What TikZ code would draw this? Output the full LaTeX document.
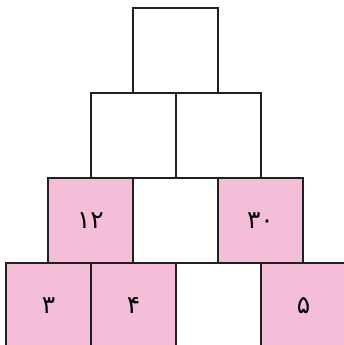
\documentclass[tikz,border=0pt]{standalone}
\usepackage{fontspec}
\newfontfamily\arabicfont[Script=Arabic]{DejaVu Sans}
\TeXXeTstate=1
\definecolor{cellpink}{RGB}{245,190,216}
\definecolor{cellline}{RGB}{35,31,32}
\tikzset{
  cell/.style={draw=cellline, line width=1.3bp, minimum size=85bp, inner sep=0pt,
    font=\arabicfont\fontsize{25}{28}\selectfont},
  pinkcell/.style={cell, fill=cellpink}
}
\begin{document}
\begin{tikzpicture}[x=1bp,y=1bp]
                \useasboundingbox (0,0) rectangle (344,-345);
                \clip (0,0) rectangle (344,-345);
                
                % Row 1: top box
                \node [cell] (top) at (175.5,-50.5) {};
                
                % Row 2
                \node [cell] (midL) at (133.5,-135.5) {};
                \node [cell] (midR) at (218.5,-135.5) {};
                
                % Row 3
                \node [pinkcell] (rowA) at (90.5,-220.5) {\beginR ۱۲\endR};
                \node [cell] (rowB) at (175.5,-220.5) {};
                \node [pinkcell] (rowC) at (260.5,-220.5) {\beginR ۳۰\endR};
                
                % Row 4: bottom boxes
                \node [pinkcell] (baseA) at (48.5,-305.5) {\beginR ۳\endR};
                \node [pinkcell] (baseB) at (133.5,-305.5) {\beginR ۴\endR};
                \node [cell] (baseC) at (218.5,-305.5) {};
                \node [pinkcell] (baseD) at (303.5,-305.5) {\beginR ۵\endR};
\end{tikzpicture}
\end{document}
